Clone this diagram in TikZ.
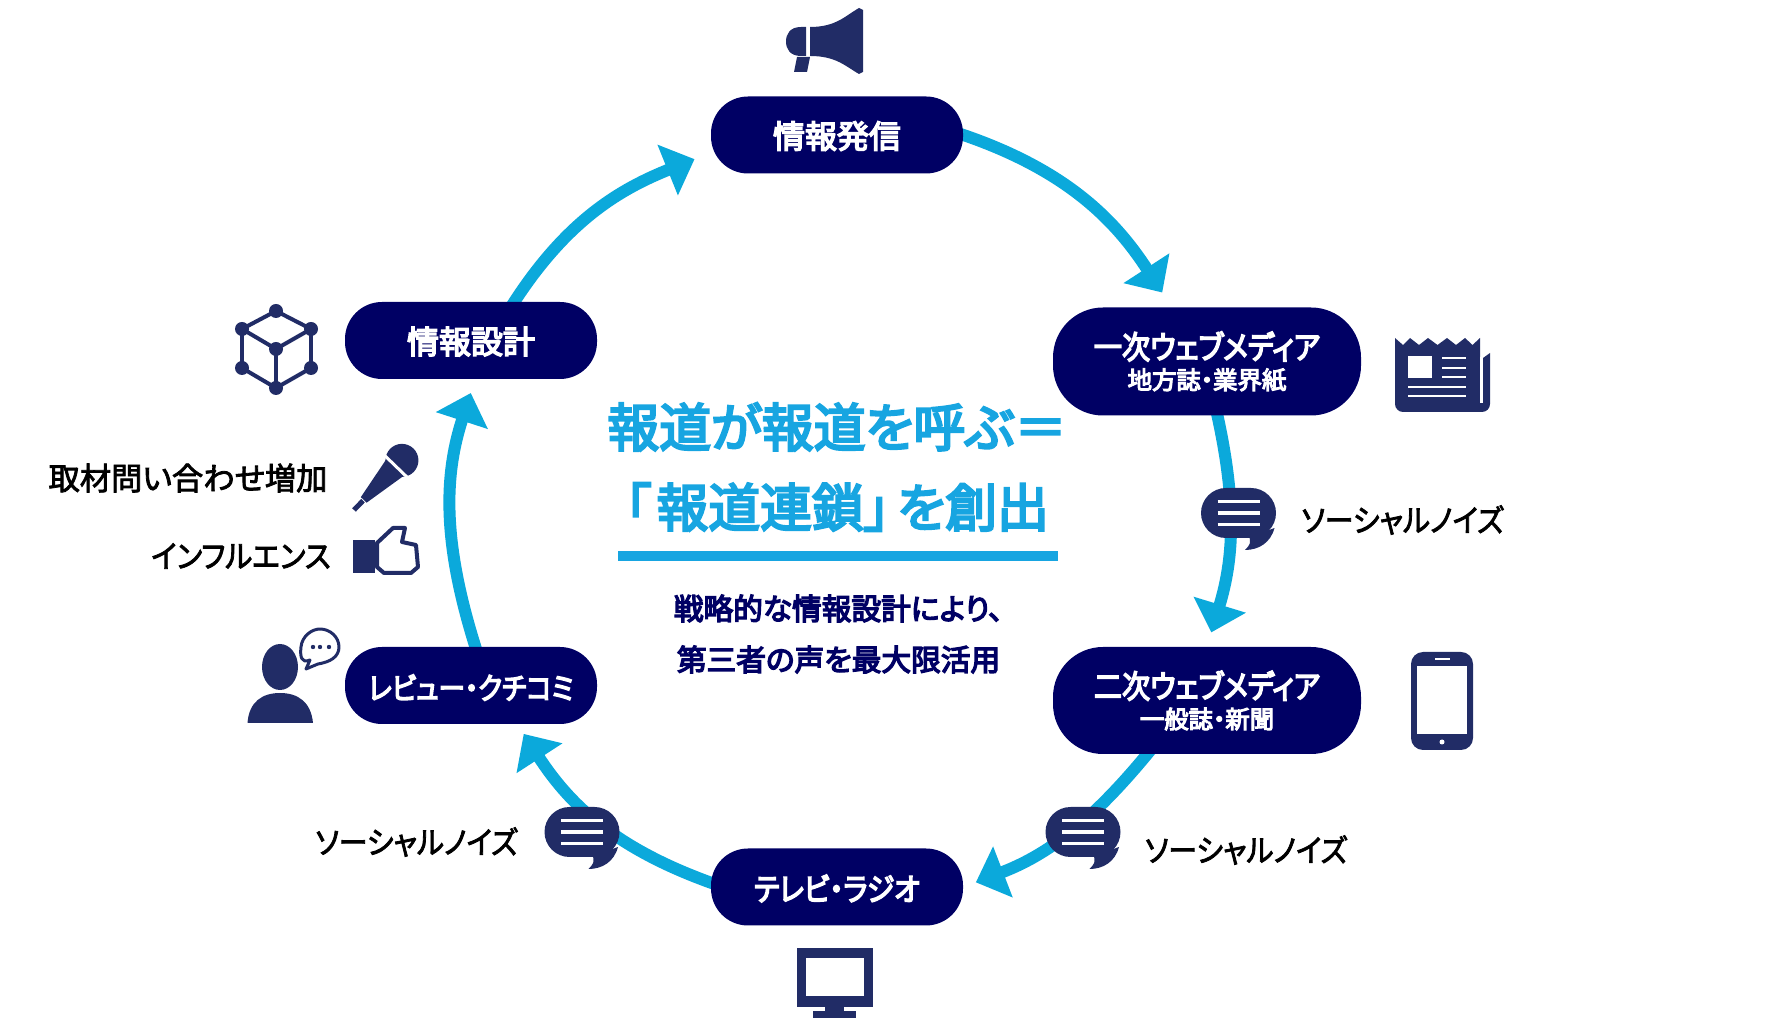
\documentclass[tikz,border=0pt]{standalone}
\usepackage{fontspec}
\setmainfont{Noto Sans CJK JP}[RawFeature=+palt]
\newfontfamily\strongfont{Noto Sans CJK JP}[RawFeature=+palt,FakeBold=4.5]
\newfontfamily\kanafont{Noto Sans CJK JP}[RawFeature=+palt,FakeBold=4.5,FakeStretch=.88]
\newfontfamily\sidefont{Noto Sans CJK JP}[RawFeature=+palt,FakeBold=2.5]
\newfontfamily\sidekana{Noto Sans CJK JP}[RawFeature=+palt,FakeBold=2.5,FakeStretch=.92]
\usepackage{xcolor}
\usetikzlibrary{arrows.meta,backgrounds}
\definecolor{pillnavy}{HTML}{000064}
\definecolor{iconnavy}{HTML}{212C66}
\definecolor{flowblue}{HTML}{0BA9DB}
\definecolor{titleblue}{HTML}{17A5E1}
\newcommand{\sublabel}{\strongfont\fontsize{6.95}{8}\selectfont}
\begin{document}
\begin{tikzpicture}[
  x=1cm,
  y=1cm,
  >={Triangle[length=2.9mm,width=5.3mm]},
  flow/.style={->,line width=1.2mm,draw=flowblue,shorten <=-1mm},
  pill/.style={fill=pillnavy,text=white,align=center,rounded corners=3.7mm,
    minimum height=7.7mm,minimum width=25.2mm,inner sep=0pt,
    execute at begin node=\rule{0pt}{2.9mm},
    font=\strongfont\fontsize{9.1}{11}\selectfont},
  kanapill/.style={pill,font=\kanafont\fontsize{9.1}{11}\selectfont},
  widepill/.style={kanapill,rounded corners=5mm,minimum height=10.8mm,minimum width=30.8mm,
    execute at begin node=\rule{0pt}{3.4mm}},
  sidelabel/.style={text=black,inner sep=0pt,font=\sidefont\fontsize{8.9}{10}\selectfont},
  sidekanalabel/.style={sidelabel,font=\sidekana\fontsize{8.9}{10}\selectfont},
  icon/.style={fill=iconnavy},
  iconline/.style={draw=iconnavy,line width=.04cm},
  bubble/.pic={
    \fill[icon,rounded corners=2.5mm] (-.375,-.25) rectangle (.375,.25);
    \fill[icon] (.11,-.24) .. controls (.12,-.31) .. (.065,-.37)
      .. controls (.2,-.37) and (.32,-.30) .. (.36,-.15) -- cycle;
    \foreach \liney in {.117,0,-.117}
      \draw[white,line width=.035cm] (-.21,\liney) -- (.21,\liney);
  }
]
\useasboundingbox (0,0) rectangle (17.87,-10.26);

\node[pill] (inform) at (8.37,-1.35) {情報発信};
\node[widepill] (web1) at (12.07,-3.615)
  {一次ウェブメディア\\[-.85mm]{\sublabel 地方誌・業界紙}};
\node[widepill,minimum height=10.7mm] (web2) at (12.07,-7.005)
  {二次ウェブメディア\\[-.85mm]{\sublabel 一般誌・新聞}};
\node[kanapill,font=\kanafont\fontsize{9.0}{11}\selectfont] (tv) at (8.37,-8.87) {テレビ・ラジオ};
\node[kanapill,font=\kanafont\fontsize{8.6}{11}\selectfont] (review) at (4.71,-6.855) {レビュー・クチコミ};
\node[pill] (design) at (4.71,-3.405) {情報設計};

\begin{scope}[on background layer]
\draw[flow,shorten >=1.7mm] (inform.east) to[out=-18,in=123] (web1.123);
\draw[flow,shorten >=1.45mm] (web1.-79) to[out=-77,in=73] (web2.north);
\draw[flow,shorten >=1.3mm] (web2.222) to[out=231,in=21] (tv.east);
\draw[flow,shorten >=1.1mm] (tv.178) to[out=161,in=-57] (review.-40.5);
\draw[flow,shorten >=1.4mm] (review.84) to[out=108,in=252] (design.-84);
\draw[flow,shorten >=1.7mm] (design.42.5) to[out=58,in=202] (inform.188);
\end{scope}

\node[text=titleblue,align=center,inner sep=0pt,
  font=\strongfont\fontsize{14.75}{22.8}\selectfont] (headline) at (8.37,-4.67)
  {報道が報道を呼ぶ＝\\「\kern.55mm 報道連鎖」\kern.75mm を創出};
\coordinate (ruleleft) at (6.18,-5.56);
\coordinate (ruleright) at (10.58,-5.56);
\draw[draw=titleblue,line width=1mm] (ruleleft) -- (ruleright);
\node[text=pillnavy,align=center,inner sep=0pt,
  font=\strongfont\fontsize{8.45}{14.5}\selectfont] (subline) at (8.385,-6.34)
  {戦略的な情報設計により、\\第三者の声を最大限活用};

\pic (noise1) at (12.385,-5.13) {bubble};
\pic (noise2) at (10.83,-8.32) {bubble};
\pic (noise3) at (5.82,-8.32) {bubble};
\node[sidekanalabel] (noise1text) at (14.025,-5.20) {ソーシャルノイズ};
\node[sidekanalabel] (noise2text) at (12.46,-8.50) {ソーシャルノイズ};
\node[sidekanalabel] (noise3text) at (4.165,-8.42) {ソーシャルノイズ};
\node[sidelabel] (inquiry) at (1.88,-4.78) {取材問い合わせ増加};
\node[sidekanalabel] (influence) at (2.41,-5.56) {インフルエンス};

\fill[icon] (8.10,-.27) .. controls (8.36,-.27) and (8.45,-.16) .. (8.59,-.08)
  -- (8.63,-.10) -- (8.63,-.72) -- (8.59,-.74)
  .. controls (8.45,-.66) and (8.36,-.56) .. (8.10,-.56) -- cycle;
\fill[icon] (8.06,-.27) -- (8.01,-.27) .. controls (7.90,-.27) and (7.86,-.34) .. (7.86,-.415)
  .. controls (7.86,-.49) and (7.90,-.56) .. (8.01,-.56) -- (8.06,-.56) -- cycle;
\fill[icon] (7.97,-.57) -- (8.10,-.57) -- (8.07,-.72) -- (7.94,-.72) -- cycle;

\fill[icon] (13.95,-3.38) -- (14.03,-3.45) -- (14.10,-3.38) -- (14.19,-3.45) -- (14.28,-3.38)
  -- (14.375,-3.45) -- (14.47,-3.38) -- (14.56,-3.45) -- (14.65,-3.38) -- (14.725,-3.45)
  -- (14.80,-3.38) -- (14.80,-3.58) -- (14.83,-3.58) -- (14.90,-3.53)
  [rounded corners=.8mm] -- (14.90,-4.12) -- (13.95,-4.12) [sharp corners] -- cycle;
\draw[white,line width=.03cm] (14.815,-3.57) -- (14.815,-4.03);
\fill[white] (14.08,-3.56) rectangle (14.32,-3.78);
\foreach \liney in {-3.58,-3.68,-3.77}
  \draw[white,line width=.028cm] (14.42,\liney) -- (14.66,\liney);
\foreach \liney in {-3.87,-3.96}
  \draw[white,line width=.028cm] (14.08,\liney) -- (14.66,\liney);

\fill[icon,rounded corners=1.2mm] (14.11,-6.52) rectangle (14.73,-7.50);
\fill[white] (14.17,-6.66) rectangle (14.67,-7.34);
\draw[white,line width=.025cm] (14.35,-6.59) -- (14.50,-6.59);
\fill[white] (14.42,-7.42) circle (.025);

\fill[icon] (7.97,-9.48) rectangle (8.725,-10.07);
\fill[white] (8.06,-9.58) rectangle (8.64,-9.96);
\fill[icon] (8.25,-10.07) rectangle (8.44,-10.11);
\fill[icon] (8.13,-10.11) rectangle (8.56,-10.18);

\foreach \xa/\ya/\xb/\yb in {2.76/-3.11/3.11/-3.29,2.76/-3.11/2.42/-3.29,2.42/-3.29/2.76/-3.49,
    3.11/-3.29/2.76/-3.49,2.76/-3.49/2.76/-3.88,2.42/-3.29/2.42/-3.68,3.11/-3.29/3.11/-3.68,
    2.42/-3.68/2.76/-3.88,3.11/-3.68/2.76/-3.88}
  \draw[iconline] (\xa,\ya) -- (\xb,\yb);
\foreach \xa/\ya in {2.76/-3.11,3.11/-3.29,2.42/-3.29,2.76/-3.49,2.42/-3.68,3.11/-3.68,2.76/-3.88}
  \fill[icon] (\xa,\ya) circle (.07);

\begin{scope}[shift={(3.54,-5.10)},rotate=46]
  \fill[icon] (0,-.025) rectangle (.13,.025);
  \fill[icon] (.14,-.04) -- (.14,.04) -- (.59,.12) -- (.59,-.12) -- cycle;
  \fill[icon] (.69,0) circle (.165);
  \draw[white,line width=.03cm] (.605,-.18) -- (.605,.18);
\end{scope}

\fill[icon] (3.53,-5.40) rectangle (3.75,-5.73);
\draw[iconline,fill=white,line join=round] (3.77,-5.43) -- (3.93,-5.28) -- (4.05,-5.28) -- (4.02,-5.42)
  -- (4.16,-5.45) -- (4.18,-5.67) -- (4.11,-5.73) -- (3.84,-5.73) -- (3.77,-5.67) -- cycle;

\fill[icon] (2.80,-6.67) ellipse (.18 and .23);
\fill[icon] (2.475,-7.23) .. controls (2.49,-7.02) and (2.62,-6.93) .. (2.80,-6.93)
  .. controls (2.98,-6.93) and (3.11,-7.02) .. (3.13,-7.23) -- cycle;
\draw[iconline,line width=.03cm,line join=round] (3.10,-6.60) .. controls (3.01,-6.64) and (3.00,-6.56) .. (3.01,-6.47)
  .. controls (3.02,-6.36) and (3.12,-6.29) .. (3.20,-6.29)
  .. controls (3.30,-6.29) and (3.39,-6.37) .. (3.39,-6.47)
  .. controls (3.39,-6.57) and (3.30,-6.62) .. (3.18,-6.64) -- (3.06,-6.69) -- cycle;
\foreach \xa in {3.13,3.20,3.29}
  \fill[icon] (\xa,-6.47) circle (.022);
\end{tikzpicture}
\end{document}
